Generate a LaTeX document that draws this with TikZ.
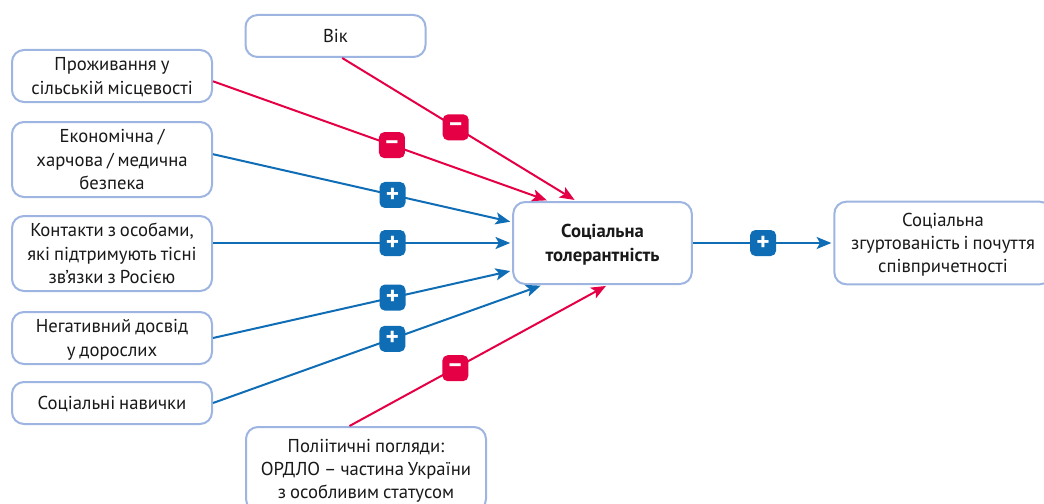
\documentclass[tikz,border=0pt]{standalone}
\usepackage{fontspec}
\setmainfont[WordSpace=0.8]{PT Sans}
\usepackage{xcolor}
\usetikzlibrary{arrows.meta}
\definecolor{box_blue}{HTML}{9DB5E0}
\definecolor{plus_blue}{HTML}{0F6DB5}
\definecolor{minus_red}{HTML}{E50046}
\tikzset{
  factor/.style={draw=box_blue, line width=1.5pt, rounded corners=9pt, fill=white, inner sep=0pt, text depth=0pt,
    align=center, font=\fontsize{14pt}{17.5pt}\selectfont, text=black!90},
  posline/.style={draw=plus_blue, line width=1.5pt, shorten >=1.5pt, -{Stealth[length=11pt,width=9pt,inset=2.5pt]}},
  negline/.style={draw=minus_red, line width=1.5pt, shorten >=1.5pt, -{Stealth[length=11pt,width=9pt,inset=2.5pt]}},
  sign/.style={rounded corners=4pt, minimum size=19.5pt, inner sep=0pt, text=white,
    font=\fontsize{19pt}{19pt}\bfseries\selectfont},
  plussign/.style={sign, fill=plus_blue},
  minussign/.style={sign, fill=minus_red},
}
\begin{document}
\begin{tikzpicture}[x=0.75pt,y=0.75pt]
        \useasboundingbox (0,0) rectangle (1044,-503);
        % Factors
        \node[factor, minimum width=135pt, minimum height=31.5pt] (age) at (335.5,-36) {Вік};
        \node[factor, minimum width=150pt, minimum height=39pt] (rural) at (112,-76) {Проживання у\\сільській місцевості};
        \node[factor, minimum width=150pt, minimum height=56.25pt] (security) at (112,-159.5) {Економічна /\\харчова / медична\\безпека};
        \node[factor, minimum width=150pt, minimum height=56.25pt] (contacts) at (112,-253.5) {Контакти з особами,\\які підтримують тісні\\зв’язки з Росією};
        \node[factor, minimum width=150pt, minimum height=39pt] (adverse) at (112,-338) {Негативний досвід\\у дорослих};
        \node[factor, minimum width=150pt, minimum height=31.5pt] (skills) at (112,-403) {Соціальні навички};
        \node[factor, minimum width=180pt, minimum height=63pt] (views) at (366,-469) {Поліітичні погляди:\\ОРДЛО – частина України\\з особливим статусом};
        % Outcomes
        \node[factor, minimum width=134pt, minimum height=61.5pt, font=\fontsize{14pt}{17.5pt}\bfseries\selectfont] (tolerance) at (602.5,-243) {Соціальна\\толерантність};
        \node[factor, minimum width=163pt, minimum height=62pt] (cohesion) at (943,-243) {Соціальна\\згуртованість і почуття\\співпричетності};
        % Negative links
        \draw[negline] (age.287) -- node[minussign, pos=.485] (agesign) {–} (tolerance.122);
        \draw[negline] (rural.-3.4) -- node[minussign, pos=.533] (ruralsign) {–} (tolerance.142);
        \draw[negline] (views.111) -- node[minussign, pos=.41] (viewssign) {–} (tolerance.277.5);
        % Positive links
        \draw[posline] (security.3.7) -- node[plussign, pos=.6] (securitysign) {+} (tolerance.167.4);
        \draw[posline] (contacts.east |- tolerance.west) -- node[plussign, pos=.6] (contactssign) {+} (tolerance.west);
        \draw[posline] (adverse.east) -- node[plussign, pos=.6] (adversesign) {+} (tolerance.197.4);
        \draw[posline] (skills.east) -- node[plussign, pos=.544] (skillssign) {+} (tolerance.215);
        \draw[posline] (tolerance.east) -- node[plussign, pos=.5] (tolerancesign) {+} (cohesion.west);
    \end{tikzpicture}
\end{document}
